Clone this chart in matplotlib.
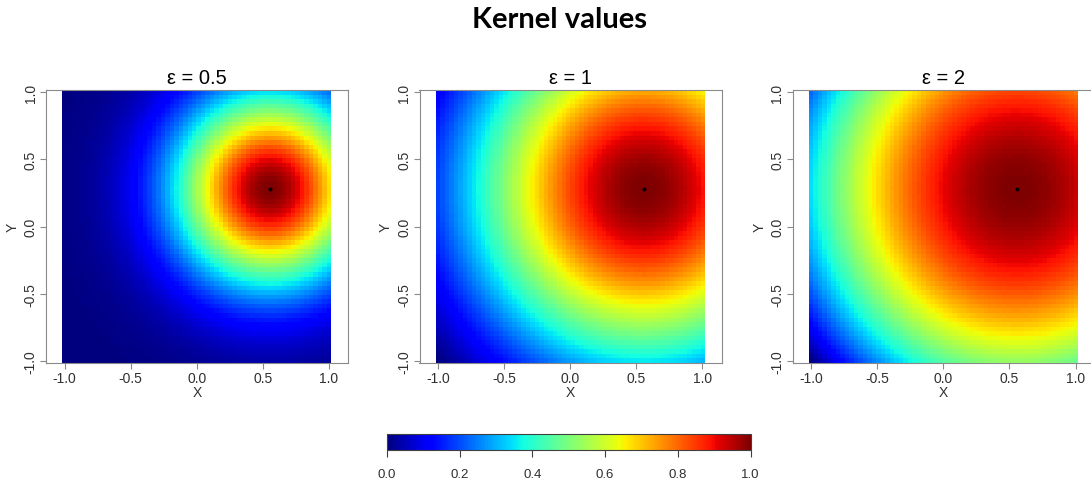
import matplotlib.pyplot as plt
import numpy as np
from matplotlib import cm, colors, colorbar

# kernel settings shown in the three panels
EPSILONS = [0.5, 1, 2]
TITLES = ["ε = 0.5", "ε = 1", "ε = 2"]
CENTER_X = 0.555
CENTER_Y = 0.28
GRID_N = 60
TICKS = [-1.0, -0.5, 0.0, 0.5, 1.0]
TICK_LABELS = ["-1.0", "-0.5", "0.0", "0.5", "1.0"]
CBAR_TICKS = [0.0, 0.2, 0.4, 0.6, 0.8, 1.0]
CBAR_LABELS = ["0.0", "0.2", "0.4", "0.6", "0.8", "1.0"]

AXIS_GREY = "#8a8a8a"
TEXT_GREY = "#303030"

plt.rcParams["font.family"] = ["Liberation Sans", "DejaVu Sans"]


def kernel_grid(eps):
    g = np.linspace(-1, 1, GRID_N)
    xx, yy = np.meshgrid(g, g)
    d2 = (xx - CENTER_X) ** 2 + (yy - CENTER_Y) ** 2
    k = np.exp(-d2 / (2 * eps ** 2))
    # rescale to the colour range of the panel
    return (k - k.min()) / (k.max() - k.min())


fig = plt.figure(figsize=(10.91, 4.85), dpi=100)
fig.text(0.513, 0.958, "Kernel values", ha="center", va="center",
         fontsize=21, fontweight="bold", family=["Lato", "DejaVu Sans"])

half = 1.0 / (GRID_N - 1)
lefts = [46, 419.5, 792.7]
for left, eps, title in zip(lefts, EPSILONS, TITLES):
    ax = fig.add_axes([left / 1091, (485 - 364) / 485, 302 / 1091, 273 / 485])
    ax.imshow(kernel_grid(eps), cmap="jet", vmin=0, vmax=1, origin="lower",
              extent=[-1 - half, 1 + half, -1 - half, 1 + half],
              interpolation="nearest", aspect="auto")
    ax.plot([CENTER_X], [CENTER_Y], marker="o", ms=2.8, color="black", mew=0)
    ax.set_xlim(-1.14, 1.145)
    ax.set_ylim(-1 - half, 1 + half)
    ax.set_xticks(TICKS, TICK_LABELS)
    ax.set_yticks(TICKS, TICK_LABELS)
    ax.tick_params(axis="both", direction="out", length=4, width=0.8,
                   color=AXIS_GREY, labelsize=10, labelcolor=TEXT_GREY, pad=2)
    for lab in ax.get_yticklabels():
        lab.set_rotation(90)
        lab.set_va("center")
    for sp in ax.spines.values():
        sp.set_color(AXIS_GREY)
        sp.set_linewidth(0.8)
    ax.set_xlabel("X", fontsize=10, color=TEXT_GREY, labelpad=0)
    ax.set_ylabel("Y", fontsize=10, color=TEXT_GREY, labelpad=3)
    ax.set_title(title, fontsize=14.5, pad=5)

cax = fig.add_axes([387 / 1091, (485 - 451) / 485, 363.5 / 1091, 16 / 485])
cb = colorbar.ColorbarBase(cax, cmap=cm.jet, norm=colors.Normalize(0, 1),
                           orientation="horizontal")
cb.set_ticks(CBAR_TICKS, labels=CBAR_LABELS)
cb.outline.set_edgecolor("#404040")
cb.outline.set_linewidth(0.8)
cax.tick_params(direction="out", length=5, width=0.8, color="#404040",
                labelsize=9.5, labelcolor=TEXT_GREY, pad=8)

fig.savefig("out.png", dpi=100)
